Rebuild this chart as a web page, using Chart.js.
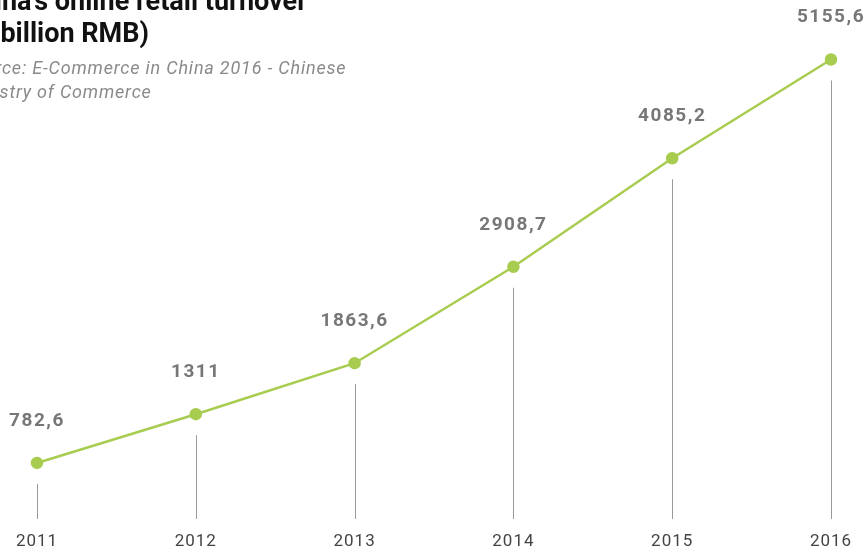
<!DOCTYPE html>
<html>
<head>
<meta charset="utf-8">
<script src="https://cdn.jsdelivr.net/npm/chart.js@4"></script>
<style>
  html, body { margin: 0; padding: 0; background: #fff; overflow: hidden; }
  #wrap { position: relative; width: 867px; height: 552px; }
  #title {
    position: absolute; left: -38px; top: -15px;
    font-family: Roboto, sans-serif; font-weight: bold; font-size: 27px;
    line-height: 32px; color: #111;
  }
  #source {
    position: absolute; left: -37px; top: 56px;
    font-family: Roboto, sans-serif; font-style: italic; font-size: 18px;
    letter-spacing: 0.8px; line-height: 24px; color: #8a8a8a;
  }
  canvas { position: absolute; left: 0; top: 0; }
</style>
</head>
<body>
<div id="wrap">
  <canvas id="c" width="867" height="552"></canvas>
  <div id="title">China's online retail turnover<br>(in billion RMB)</div>
  <div id="source">Source: E-Commerce in China 2016 - Chinese<br>Ministry of Commerce</div>
</div>
<script>
// データ
const years = ["2011", "2012", "2013", "2014", "2015", "2016"];
const turnover = [782.6, 1311, 1863.6, 2908.7, 4085.2, 5155.6];

const lineColor = "#a7cc4f";

// 文字間隔（軸ラベル用）
const spacing = {
  id: "spacing",
  beforeDraw(chart) { chart.ctx.letterSpacing = "1px"; }
};

// 値ラベルと縦線
const dropLines = {
  id: "dropLines",
  afterDatasetsDraw(chart) {
    const ctx = chart.ctx;
    const meta = chart.getDatasetMeta(0);
    const bottom = chart.chartArea.bottom;
    ctx.save();
    meta.data.forEach((pt, i) => {
      ctx.strokeStyle = "#999";
      ctx.lineWidth = 1;
      ctx.beginPath();
      ctx.moveTo(Math.round(pt.x) + 0.5, pt.y + 21);
      ctx.lineTo(Math.round(pt.x) + 0.5, bottom);
      ctx.stroke();

      ctx.fillStyle = "#777";
      ctx.font = "bold 19px Roboto, sans-serif";
      ctx.letterSpacing = "1.5px";
      ctx.textAlign = "center";
      ctx.textBaseline = "middle";
      const txt = String(turnover[i]).replace(".", ",");
      ctx.fillText(txt, pt.x, pt.y - 42);
    });
    ctx.restore();
  }
};

new Chart(document.getElementById("c"), {
  type: "line",
  data: {
    labels: years,
    datasets: [{
      data: turnover,
      borderColor: lineColor,
      backgroundColor: lineColor,
      borderWidth: 2.5,
      pointRadius: 5,
      pointHoverRadius: 5,
      tension: 0,
      clip: false
    }]
  },
  options: {
    responsive: false,
    animation: false,
    events: [],
    layout: { autoPadding: false, padding: { left: 37, right: 36, top: 0, bottom: 0 } },
    plugins: { legend: { display: false }, tooltip: { enabled: false } },
    scales: {
      x: {
        offset: false,
        grid: { display: false, drawTicks: false },
        border: { display: false },
        afterFit(scale) { scale.height = 33; },
        ticks: {
          color: "#444",
          padding: 13,
          maxRotation: 0,
          font: { family: "Roboto, sans-serif", size: 17 }
        }
      },
      y: {
        display: false,
        min: 175,
        max: 5800
      }
    }
  },
  plugins: [spacing, dropLines]
});
</script>
</body>
</html>
